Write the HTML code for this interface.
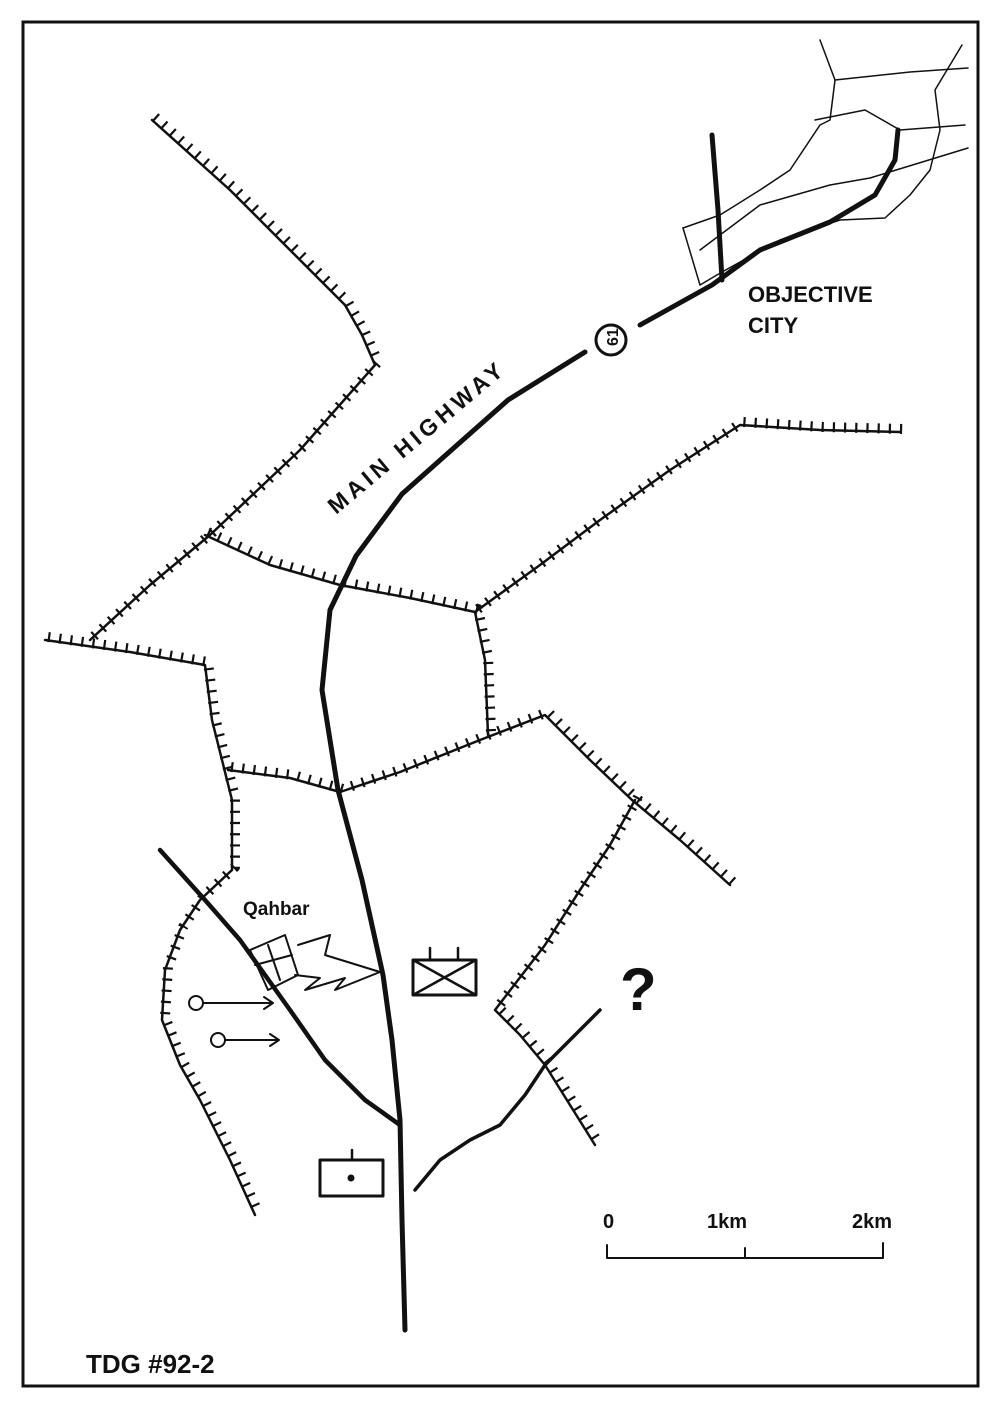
<!DOCTYPE html>
<html><head><meta charset="utf-8"><style>
html,body{margin:0;padding:0;background:#fff;}
svg{display:block;}
text{font-family:"Liberation Sans",sans-serif;fill:#111;}
</style></head><body>
<svg width="996" height="1402" viewBox="0 0 996 1402" xmlns="http://www.w3.org/2000/svg">
<rect x="23" y="22" width="955" height="1364" fill="none" stroke="#111" stroke-width="3"/>
<g fill="none" stroke="#111" stroke-linejoin="round" stroke-linecap="round">
 <g stroke-width="2.5">
  <path id="r1" d="M152,120 L230,190 L290,250 L345,305 L362,335 L375,365 L300,450 L210,535 L150,585 L90,640"/>
  <path id="r2" d="M205,535 L270,565 L340,585 L410,598 L475,612 L485,660 L488,735"/>
  <path id="r3" d="M475,612 L540,565 L600,520 L670,470 L740,425 L820,430 L900,432"/>
  <path id="r4" d="M45,640 L130,652 L205,665 L212,720 L232,800 L232,870 L200,900 L180,930 L165,970 L162,1020 L180,1065 L200,1100 L230,1160 L255,1215"/>
  <path id="r5" d="M228,770 L290,778 L340,792 L400,772 L480,740 L545,715 L590,760 L632,800 L680,840 L730,885"/>
  <path id="r6" d="M635,800 L610,845 L580,890 L545,945 L495,1010 L520,1035 L545,1065 L570,1105 L595,1145"/>
 </g>
 <g stroke-width="10" stroke-dasharray="2.2 9" stroke-linecap="butt" transform="translate(3,-3)">
  <use href="#r1"/><use href="#r2"/><use href="#r3"/><use href="#r4"/><use href="#r5"/><use href="#r6"/>
 </g>
 <path d="M405,1330 L402,1220 L400,1120 L392,1040 L383,975 L362,880 L338,790 L322,690 L330,610 L356,556 L402,494 L456,446 L508,400 L585,352" stroke-width="5"/>
 <path d="M640,325 L712,285 L760,250 L830,222 L875,195 L895,160 L898,130" stroke-width="5"/>
 <circle cx="611" cy="340" r="15" stroke-width="3"/>
 <text x="605" y="347" font-size="16" font-weight="bold" transform="rotate(-90 611 340)" stroke="none">61</text>
 <path d="M160,850 L205,900 L240,940 L290,1010 L325,1060 L365,1100 L400,1125" stroke-width="4.5"/>
 <path d="M415,1190 L440,1160 L470,1140 L500,1125 L525,1095 L545,1065 L570,1040 L600,1010" stroke-width="3.5"/>
 <path d="M712,135 L718,210 L722,280" stroke-width="5"/>
 <g stroke-width="1.5">
  <path d="M683,228 L700,285 L722,272 L780,240 L840,220 L885,218 L910,195 L930,170 L940,130 L935,90 L962,45"/>
  <path d="M820,40 L835,80 L830,120 L820,125 L790,170 L760,190 L720,215 L683,228"/>
  <path d="M835,80 L910,72 L968,68"/>
  <path d="M815,120 L865,110 L900,130 L965,125"/>
  <path d="M700,250 L760,205 L830,185 L870,178 L968,148"/>
 </g>
 <rect x="413" y="960" width="63" height="35" stroke-width="3"/>
 <path d="M413,960 L476,995 M476,960 L413,995 M430,960 V948 M458,960 V948" stroke-width="2.5"/>
 <rect x="320" y="1160" width="63" height="36" stroke-width="3"/>
 <path d="M352,1160 V1150" stroke-width="2.5"/>
 <circle cx="351" cy="1178" r="3" fill="#111"/>
 <path d="M250,950 L285,935 L298,975 L268,990 Z M268,945 L280,980 M255,965 L292,955" stroke-width="2"/>
 <path d="M298,945 L330,935 L325,955 L380,972 L335,990 L345,978 L305,990 L320,978 L295,975" stroke-width="2"/>
 <circle cx="196" cy="1003" r="7" stroke-width="2"/>
 <path d="M203,1003 H272 M264,997 L273,1003 L264,1009" stroke-width="2"/>
 <circle cx="218" cy="1040" r="7" stroke-width="2"/>
 <path d="M225,1040 H278 M270,1034 L279,1040 L270,1046" stroke-width="2"/>
 <path d="M607,1245 V1258 H883 V1243 M745,1258 V1248" stroke-width="2"/>
</g>
<text x="620" y="1010" font-size="60" font-weight="bold">?</text>
<text x="748" y="302" font-size="22" font-weight="bold">OBJECTIVE</text>
<text x="748" y="333" font-size="22" font-weight="bold">CITY</text>
<text x="0" y="0" font-size="23" font-weight="bold" textLength="220" lengthAdjust="spacing" transform="translate(336,515) rotate(-40)">MAIN HIGHWAY</text>
<text x="243" y="915" font-size="19" font-weight="bold">Qahbar</text>
<text x="86" y="1373" font-size="26" font-weight="bold">TDG #92-2</text>
<text x="603" y="1228" font-size="20" font-weight="bold">0</text>
<text x="707" y="1228" font-size="20" font-weight="bold">1km</text>
<text x="852" y="1228" font-size="20" font-weight="bold">2km</text>
</svg>
</body></html>
